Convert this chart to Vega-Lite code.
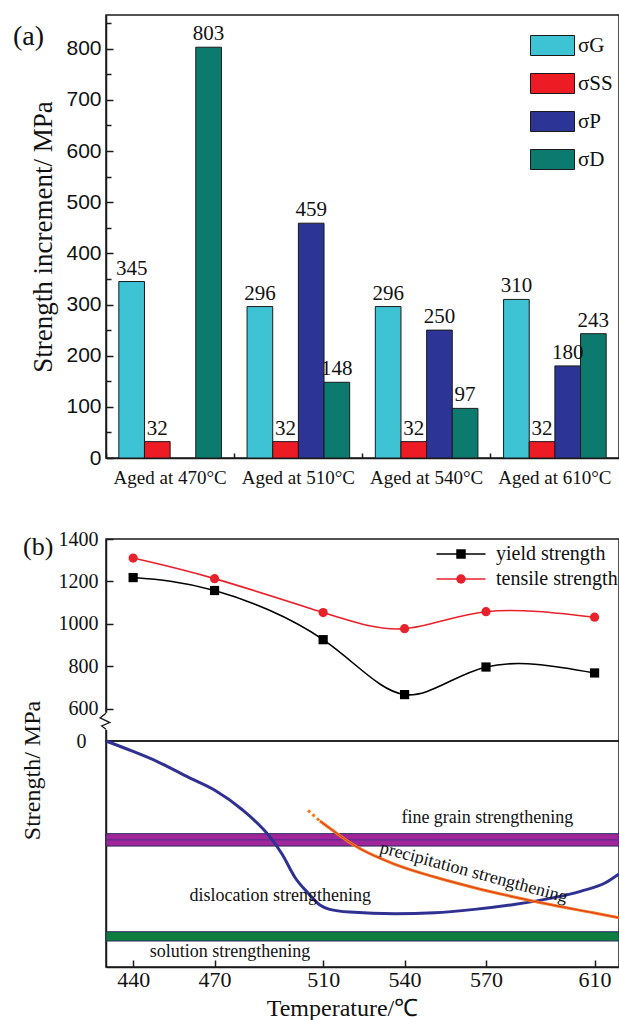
{
  "$schema": "https://vega.github.io/schema/vega-lite/v6.json",
  "background": "white",
  "padding": {"left": 12, "top": 14, "right": 0, "bottom": 0},
  "config": {
    "view": {"stroke": "#1a1a1a", "strokeWidth": 1.5},
    "font": "Liberation Serif",
    "axis": {"domainColor": "#1a1a1a", "tickColor": "#1a1a1a", "labelColor": "#111111", "titleColor": "#111111", "grid": false, "domainWidth": 1.5, "tickWidth": 1.5, "titleFontWeight": "normal", "titleFont": "Liberation Serif"},
    "legend": {"labelColor": "#111111"}
  },
  "bounds": "flush",
  "spacing": 81,
  "resolve": {"scale": {"color": "independent", "shape": "independent", "x": "independent", "y": "independent"}, "legend": {"color": "independent", "shape": "independent"}},
  "vconcat": [
    {
      "width": 513,
      "height": 443,
      "title": {"text": "(a)", "frame": "group", "orient": "top", "anchor": "start", "dx": -93, "dy": 64, "offset": 0, "baseline": "bottom", "fontSize": 28, "font": "Liberation Serif", "fontWeight": "normal", "color": "#111111"},
      "data": {"values": [
        {"age": "Aged at 470°C", "comp": "σG", "value": 345},
        {"age": "Aged at 470°C", "comp": "σSS", "value": 32},
        {"age": "Aged at 470°C", "comp": "σD", "value": 803},
        {"age": "Aged at 510°C", "comp": "σG", "value": 296},
        {"age": "Aged at 510°C", "comp": "σSS", "value": 32},
        {"age": "Aged at 510°C", "comp": "σP", "value": 459},
        {"age": "Aged at 510°C", "comp": "σD", "value": 148},
        {"age": "Aged at 540°C", "comp": "σG", "value": 296},
        {"age": "Aged at 540°C", "comp": "σSS", "value": 32},
        {"age": "Aged at 540°C", "comp": "σP", "value": 250},
        {"age": "Aged at 540°C", "comp": "σD", "value": 97},
        {"age": "Aged at 610°C", "comp": "σG", "value": 310},
        {"age": "Aged at 610°C", "comp": "σSS", "value": 32},
        {"age": "Aged at 610°C", "comp": "σP", "value": 180},
        {"age": "Aged at 610°C", "comp": "σD", "value": 243}
      ]},
      "encoding": {
        "x": {"field": "age", "type": "nominal", "sort": ["Aged at 470°C", "Aged at 510°C", "Aged at 540°C", "Aged at 610°C"], "scale": {"paddingInner": 0, "paddingOuter": 0},
          "axis": {"title": null, "labelAngle": 0, "labelFont": "Liberation Serif", "labelFontSize": 19, "tickSize": -5, "bandPosition": 0, "labelPadding": 15}},
        "xOffset": {"field": "comp", "type": "nominal", "sort": ["σG", "σSS", "σP", "σD"], "scale": {"paddingInner": 0, "paddingOuter": 0.5}}
      },
      "resolve": {"axis": {"y": "independent"}},
      "layer": [
        {
          "mark": {"type": "bar", "stroke": "#1a1a1a", "strokeWidth": 1},
          "encoding": {
            "y": {"field": "value", "type": "quantitative", "scale": {"domain": [0, 866], "nice": false},
              "axis": {"values": [0, 100, 200, 300, 400, 500, 600, 700, 800], "title": "Strength increment/ MPa", "titleFontSize": 27, "titlePadding": 8, "labelFont": "Liberation Sans", "labelFontSize": 21, "tickSize": -7, "labelPadding": 12}},
            "color": {"field": "comp", "type": "nominal", "scale": {"domain": ["σG", "σSS", "σP", "σD"], "range": ["#3ec3d5", "#ed1c24", "#2c3595", "#0c7a6e"]},
              "legend": {"title": null, "orient": "none", "legendX": 436, "legendY": 20, "padding": 0, "symbolType": "M-2.2,-1H2.2V1H-2.2Z", "symbolSize": 400, "symbolStrokeColor": "#1a1a1a", "symbolStrokeWidth": 1, "symbolOpacity": 1, "labelFont": "Liberation Serif", "labelFontSize": 21, "labelOffset": 15, "rowPadding": 13}}
          }
        },
        {
          "mark": {"type": "text", "baseline": "bottom", "dy": -3, "font": "Liberation Serif", "fontSize": 21, "color": "#111111"},
          "encoding": {
            "y": {"field": "value", "type": "quantitative", "scale": {"domain": [0, 866], "nice": false},
              "axis": {"orient": "left", "values": [50, 150, 250, 350, 450, 550, 650, 750, 850], "labels": false, "domain": false, "title": null, "tickSize": -5}},
            "text": {"field": "value", "type": "quantitative"}
          }
        }
      ]
    },
    {
      "bounds": "flush",
      "spacing": 0,
      "resolve": {"scale": {"color": "independent", "shape": "independent", "y": "independent"}, "legend": {"color": "independent", "shape": "independent"}},
      "vconcat": [
        {
          "width": 513,
          "height": 202,
          "title": {"text": "(b)", "frame": "group", "orient": "top", "anchor": "start", "dx": -83, "dy": 57, "offset": 0, "baseline": "bottom", "fontSize": 26, "font": "Liberation Serif", "fontWeight": "normal", "color": "#111111"},
          "data": {"values": [
            {"T": 440, "MPa": 1218, "series": "yield strength"},
            {"T": 470, "MPa": 1157, "series": "yield strength"},
            {"T": 510, "MPa": 925, "series": "yield strength"},
            {"T": 540, "MPa": 666, "series": "yield strength"},
            {"T": 570, "MPa": 796, "series": "yield strength"},
            {"T": 610, "MPa": 768, "series": "yield strength"},
            {"T": 440, "MPa": 1310, "series": "tensile strength"},
            {"T": 470, "MPa": 1213, "series": "tensile strength"},
            {"T": 510, "MPa": 1053, "series": "tensile strength"},
            {"T": 540, "MPa": 977, "series": "tensile strength"},
            {"T": 570, "MPa": 1057, "series": "tensile strength"},
            {"T": 610, "MPa": 1031, "series": "tensile strength"}
          ]},
          "encoding": {
            "x": {"field": "T", "type": "quantitative", "scale": {"domain": [430, 619], "nice": false, "zero": false}, "axis": null},
            "y": {"field": "MPa", "type": "quantitative", "scale": {"domain": [447, 1400], "nice": false, "zero": false},
              "axis": {"values": [600, 800, 1000, 1200, 1400], "format": "d", "title": null, "labelFont": "Liberation Serif", "labelFontSize": 20, "tickSize": -7, "labelPadding": 15}}
          },
          "resolve": {"scale": {"color": "independent", "shape": "independent"}, "legend": {"color": "independent", "shape": "independent"}},
          "layer": [
            {
              "mark": {"type": "line", "interpolate": "natural", "strokeWidth": 1.6},
              "encoding": {
                "color": {"field": "series", "type": "nominal", "scale": {"domain": ["yield strength", "tensile strength"], "range": ["#000000", "#e8212b"]},
                  "legend": {"title": null, "orient": "none", "legendX": 345, "legendY": 5, "padding": 0, "zindex": 0, "symbolType": "M-4.9,0H4.9", "symbolSize": 100, "symbolStrokeWidth": 1.6, "labelFont": "Liberation Serif", "labelFontSize": 20, "labelOffset": 25, "rowPadding": 5}}
              }
            },
            {
              "mark": {"type": "point", "filled": true, "opacity": 1, "size": 85},
              "encoding": {
                "color": {"field": "series", "type": "nominal", "scale": {"domain": ["yield strength", "tensile strength"], "range": ["#000000", "#e8212b"]},
                  "legend": {"title": null, "orient": "none", "legendX": 345, "legendY": 5, "padding": 0, "zindex": 1, "symbolSize": 90, "labelFont": "Liberation Serif", "labelFontSize": 20, "labelOffset": 25, "labelOpacity": 0, "rowPadding": 5}},
                "shape": {"field": "series", "type": "nominal", "scale": {"domain": ["yield strength", "tensile strength"], "range": ["square", "circle"]}, "legend": null}
              }
            },
            {
              "data": {"values": [
                {"T": 430, "MPa": 580, "k": 0},
                {"T": 430, "MPa": 500, "k": 1}
              ]},
              "mark": {"type": "line", "color": "white", "strokeWidth": 4, "clip": false},
              "encoding": {"order": {"field": "k", "type": "quantitative"}}
            },
            {
              "data": {"values": [
                {"T": 430, "MPa": 578, "k": 0},
                {"T": 427.8, "MPa": 556, "k": 1},
                {"T": 431.4, "MPa": 534, "k": 2},
                {"T": 428.4, "MPa": 518, "k": 3},
                {"T": 430, "MPa": 502, "k": 4}
              ]},
              "mark": {"type": "line", "color": "#1a1a1a", "strokeWidth": 1.3, "clip": false},
              "encoding": {"order": {"field": "k", "type": "quantitative"}}
            }
          ]
        },
        {
          "width": 513,
          "height": 226,
          "encoding": {
            "x": {"field": "T", "type": "quantitative", "scale": {"domain": [430, 619], "nice": false, "zero": false},
              "axis": {"values": [440, 470, 510, 540, 570, 610], "title": "Temperature/℃", "titleFontSize": 24, "titlePadding": 6, "titleX": 236, "labelFont": "Liberation Serif", "labelFontSize": 22, "tickSize": -7, "labelPadding": 9}},
            "y": {"field": "v", "type": "quantitative", "scale": {"domain": [-100, 0], "nice": false, "zero": false},
              "axis": {"values": [0], "ticks": false, "title": "Strength/ MPa", "titleFontSize": 24, "titlePadding": 32, "titleY": 29, "labelFont": "Liberation Serif", "labelFontSize": 20, "labelPadding": 20}}
          },
          "resolve": {"scale": {"color": "independent"}},
          "layer": [
            {
              "data": {"values": [
                {"band": "fine grain", "T": 430, "T2": 619, "v": -46.5, "v2": -41.0},
                {"band": "solution", "T": 430, "T2": 619, "v": -88.5, "v2": -84.4}
              ]},
              "mark": {"type": "rect", "stroke": "#2a2a5a", "strokeWidth": 1},
              "encoding": {
                "x2": {"field": "T2"},
                "y2": {"field": "v2"},
                "color": {"field": "band", "type": "nominal", "scale": {"domain": ["fine grain", "solution"], "range": ["#a0269a", "#0e7d40"]}, "legend": null}
              }
            },
            {
              "data": {"values": [
                {"T": 430, "v": -43.75},
                {"T": 619, "v": -43.75}
              ]},
              "mark": {"type": "line", "color": "#5b2a8e", "strokeWidth": 1.2},
              "encoding": {}
            },
            {
              "data": {"values": [
                {"curve": "dislocation", "T": 430, "v": 0},
                {"curve": "dislocation", "T": 439.5, "v": -4.4},
                {"curve": "dislocation", "T": 448.9, "v": -9.1},
                {"curve": "dislocation", "T": 460.6, "v": -16.2},
                {"curve": "dislocation", "T": 470.1, "v": -21.8},
                {"curve": "dislocation", "T": 480, "v": -30.2},
                {"curve": "dislocation", "T": 490.1, "v": -42},
                {"curve": "dislocation", "T": 494.9, "v": -50.1},
                {"curve": "dislocation", "T": 499.7, "v": -60.5},
                {"curve": "dislocation", "T": 504.7, "v": -67.6},
                {"curve": "dislocation", "T": 508.8, "v": -72.6},
                {"curve": "dislocation", "T": 512.4, "v": -74.5},
                {"curve": "dislocation", "T": 519.8, "v": -75.7},
                {"curve": "dislocation", "T": 536.5, "v": -76.4},
                {"curve": "dislocation", "T": 551.1, "v": -76},
                {"curve": "dislocation", "T": 565.7, "v": -74.5},
                {"curve": "dislocation", "T": 580.3, "v": -72.3},
                {"curve": "dislocation", "T": 595, "v": -69.3},
                {"curve": "dislocation", "T": 605.1, "v": -66.4},
                {"curve": "dislocation", "T": 614, "v": -62.7},
                {"curve": "dislocation", "T": 619, "v": -58.8},
                {"curve": "precipitation", "T": 508.8, "v": -35.4},
                {"curve": "precipitation", "T": 514.7, "v": -40.6},
                {"curve": "precipitation", "T": 521.9, "v": -46.5},
                {"curve": "precipitation", "T": 536.5, "v": -54.6},
                {"curve": "precipitation", "T": 551.1, "v": -60.2},
                {"curve": "precipitation", "T": 565.7, "v": -64.9},
                {"curve": "precipitation", "T": 580.3, "v": -69},
                {"curve": "precipitation", "T": 595, "v": -72.7},
                {"curve": "precipitation", "T": 609.5, "v": -76},
                {"curve": "precipitation", "T": 619, "v": -78.2}
              ]},
              "layer": [
                {
                  "mark": {"type": "line", "interpolate": "monotone", "strokeWidth": 3},
                  "encoding": {"color": {"field": "curve", "type": "nominal", "scale": {"domain": ["dislocation", "precipitation"], "range": ["#2e3192", "#f07b21"]}, "legend": null}}
                },
                {
                  "transform": [{"filter": "datum.curve === 'precipitation'"}],
                  "mark": {"type": "line", "interpolate": "monotone", "strokeWidth": 0.8, "color": "#e0261d"},
                  "encoding": {}
                }
              ]
            },
            {
              "data": {"values": [
                {"T": 504.4, "v": -30.7},
                {"T": 508.8, "v": -35.4}
              ]},
              "mark": {"type": "line", "strokeWidth": 3, "strokeDash": [3, 3], "color": "#f07b21"},
              "encoding": {}
            },
            {
              "data": {"values": [
                {"label": "fine grain strengthening", "T": 570.5, "v": -34.2},
                {"label": "dislocation strengthening", "T": 494.2, "v": -68.6},
                {"label": "solution strengthening", "T": 475.7, "v": -93.4}
              ]},
              "mark": {"type": "text", "font": "Liberation Serif", "fontSize": 18, "baseline": "middle", "color": "#111111"},
              "encoding": {"text": {"field": "label"}}
            },
            {
              "data": {"values": [
                {"label": "precipitation strengthening", "T": 565.5, "v": -58.3}
              ]},
              "mark": {"type": "text", "font": "Liberation Serif", "fontSize": 18, "baseline": "middle", "angle": 15, "color": "#111111"},
              "encoding": {"text": {"field": "label"}}
            }
          ]
        }
      ]
    }
  ]
}
